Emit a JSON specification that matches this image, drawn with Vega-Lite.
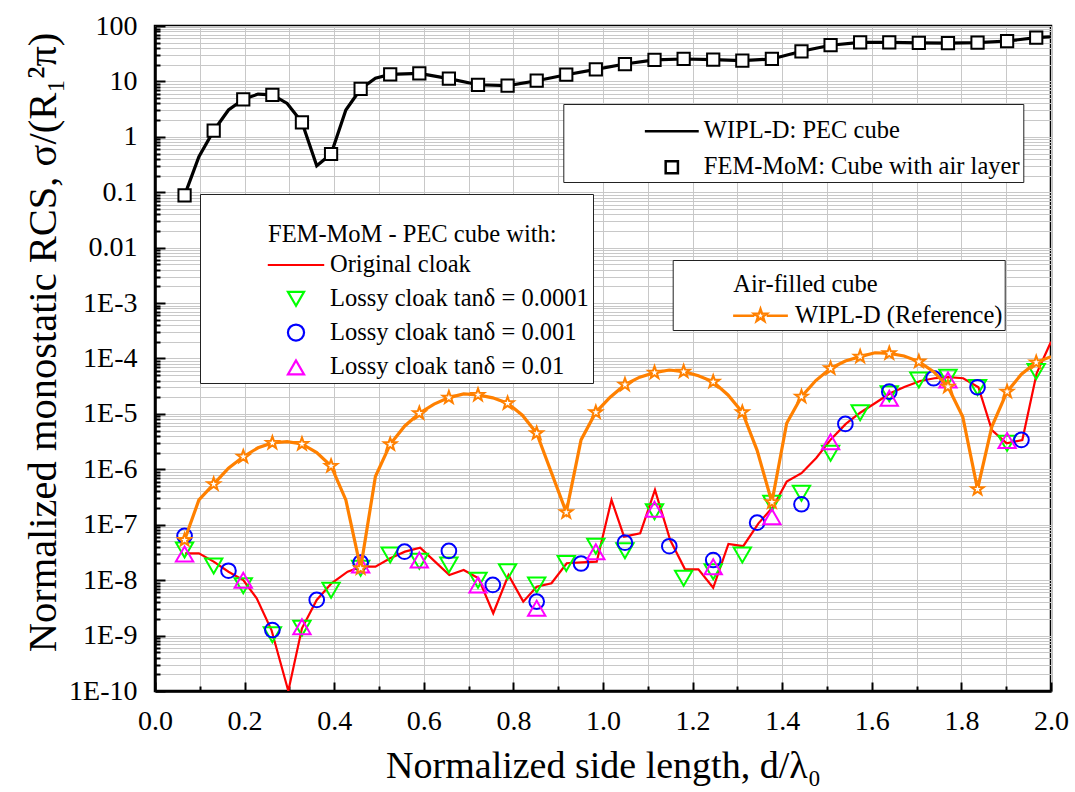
{
  "$schema": "https://vega.github.io/schema/vega-lite/v6.json",
  "width": 896,
  "height": 665,
  "autosize": {"type": "none"},
  "padding": {"left": 155, "top": 26, "right": 24, "bottom": 101},
  "background": "white",
  "config": {
    "font": "Liberation Serif",
    "view": {"stroke": "black", "strokeWidth": 2.5},
    "axis": {
      "labelFont": "Liberation Serif", "labelFontSize": 28, "labelColor": "black",
      "titleFont": "Liberation Serif", "titleFontSize": 38, "titleFontWeight": "normal", "titleColor": "black",
      "domainColor": "black", "domainWidth": 2.5, "tickColor": "black", "tickWidth": 2,
      "gridColor": "#c8c8c8", "gridWidth": 1, "labelFlush": false, "labelOverlap": false
    }
  },
  "datasets": {
    "pecLine": [
      {"x":0.066,"y":0.088},{"x":0.098,"y":0.44},{"x":0.131,"y":1.29},{"x":0.164,"y":3.05},{"x":0.197,"y":4.75},
      {"x":0.230,"y":5.9},{"x":0.262,"y":5.7},{"x":0.295,"y":4.0},{"x":0.328,"y":1.83},{"x":0.361,"y":0.30},
      {"x":0.393,"y":0.49},{"x":0.426,"y":3.05},{"x":0.459,"y":7.3},{"x":0.492,"y":11.4},{"x":0.525,"y":13.4},
      {"x":0.590,"y":14},{"x":0.656,"y":11.2},{"x":0.721,"y":8.7},{"x":0.787,"y":8.4},{"x":0.852,"y":10.3},
      {"x":0.918,"y":13.2},{"x":0.984,"y":16.5},{"x":1.049,"y":20.6},{"x":1.115,"y":24.4},{"x":1.180,"y":25.4},
      {"x":1.246,"y":24.8},{"x":1.311,"y":23.7},{"x":1.377,"y":25.4},{"x":1.443,"y":35},{"x":1.508,"y":45},
      {"x":1.574,"y":50.8},{"x":1.639,"y":50.8},{"x":1.705,"y":49.4},{"x":1.770,"y":49},{"x":1.836,"y":50},
      {"x":1.902,"y":53.6},{"x":1.967,"y":61.5},{"x":2.0,"y":64}
    ],
    "pecSquares": [
      {"x":0.066,"y":0.088},{"x":0.131,"y":1.29},{"x":0.197,"y":4.75},{"x":0.262,"y":5.7},{"x":0.328,"y":1.83},
      {"x":0.393,"y":0.49},{"x":0.459,"y":7.3},{"x":0.525,"y":13.4},{"x":0.590,"y":14},{"x":0.656,"y":11.2},
      {"x":0.721,"y":8.7},{"x":0.787,"y":8.4},{"x":0.852,"y":10.3},{"x":0.918,"y":13.2},{"x":0.984,"y":16.5},
      {"x":1.049,"y":20.6},{"x":1.115,"y":24.4},{"x":1.180,"y":25.4},{"x":1.246,"y":24.8},{"x":1.311,"y":23.7},
      {"x":1.377,"y":25.4},{"x":1.443,"y":35},{"x":1.508,"y":45},{"x":1.574,"y":50.8},{"x":1.639,"y":50.8},
      {"x":1.705,"y":49.4},{"x":1.770,"y":49},{"x":1.836,"y":50},{"x":1.902,"y":53.6},{"x":1.967,"y":61.5}
    ],
    "cloakLine": [
      {"x":0.067,"y":3.05e-8},{"x":0.098,"y":3.05e-8},{"x":0.131,"y":2.16e-8},{"x":0.164,"y":1.42e-8},{"x":0.197,"y":1.0e-8},
      {"x":0.227,"y":4.7e-9},{"x":0.260,"y":1.26e-9},{"x":0.2976,"y":1.0e-10},{"x":0.328,"y":1.35e-9},{"x":0.361,"y":4.4e-9},
      {"x":0.394,"y":8.8e-9},{"x":0.430,"y":1.42e-8},{"x":0.461,"y":1.75e-8},{"x":0.492,"y":1.75e-8},{"x":0.525,"y":2.48e-8},
      {"x":0.558,"y":3.27e-8},{"x":0.592,"y":3.86e-8},{"x":0.625,"y":2.16e-8},{"x":0.657,"y":1.24e-8},{"x":0.689,"y":1.53e-8},
      {"x":0.722,"y":1.08e-8},{"x":0.755,"y":2.53e-9},{"x":0.789,"y":1.24e-8},{"x":0.822,"y":4.1e-9},{"x":0.852,"y":7.6e-9},
      {"x":0.885,"y":8.8e-9},{"x":0.919,"y":2.02e-8},{"x":0.952,"y":2.1e-8},{"x":0.986,"y":2.16e-8},{"x":1.019,"y":2.8e-7},
      {"x":1.047,"y":6.1e-8},{"x":1.083,"y":7.0e-8},{"x":1.116,"y":4.25e-7},{"x":1.150,"y":5.3e-8},{"x":1.183,"y":1.57e-8},
      {"x":1.213,"y":1.57e-8},{"x":1.246,"y":7.3e-9},{"x":1.280,"y":4.5e-8},{"x":1.313,"y":4.1e-8},{"x":1.347,"y":1.06e-7},
      {"x":1.380,"y":2.12e-7},{"x":1.410,"y":6.0e-7},{"x":1.443,"y":8.5e-7},{"x":1.476,"y":1.6e-6},{"x":1.509,"y":3.5e-6},
      {"x":1.542,"y":6.6e-6},{"x":1.574,"y":1.05e-5},{"x":1.607,"y":1.56e-5},{"x":1.641,"y":2.36e-5},{"x":1.674,"y":3.1e-5},
      {"x":1.708,"y":3.93e-5},{"x":1.740,"y":4.4e-5},{"x":1.771,"y":4.6e-5},{"x":1.804,"y":4.4e-5},{"x":1.838,"y":3.03e-5},
      {"x":1.868,"y":5.1e-6},{"x":1.901,"y":2.95e-6},{"x":1.936,"y":3.39e-6},{"x":1.968,"y":5.4e-5},{"x":2.0,"y":2.0e-4}
    ],
    "loss0001": [
      {"x":0.066,"y":3.5e-8},{"x":0.131,"y":1.8e-8},{"x":0.197,"y":7.9e-9},{"x":0.262,"y":1.03e-9},{"x":0.328,"y":1.35e-9},
      {"x":0.393,"y":6.6e-9},{"x":0.459,"y":1.64e-8},{"x":0.525,"y":2.85e-8},{"x":0.590,"y":2.2e-8},{"x":0.656,"y":1.88e-8},
      {"x":0.721,"y":1.0e-8},{"x":0.787,"y":1.42e-8},{"x":0.852,"y":8.2e-9},{"x":0.918,"y":2.0e-8},{"x":0.984,"y":4.1e-8},
      {"x":1.049,"y":3.4e-8},{"x":1.115,"y":1.72e-7},{"x":1.180,"y":1.08e-8},{"x":1.246,"y":1.42e-8},{"x":1.311,"y":2.85e-8},
      {"x":1.377,"y":2.44e-7},{"x":1.443,"y":3.7e-7},{"x":1.508,"y":1.95e-6},{"x":1.574,"y":1.05e-5},{"x":1.639,"y":2.3e-5},
      {"x":1.705,"y":4.1e-5},{"x":1.770,"y":4.6e-5},{"x":1.836,"y":3.0e-5},{"x":1.902,"y":2.95e-6},{"x":1.967,"y":5.8e-5}
    ],
    "loss001": [
      {"x":0.066,"y":6.3e-8},{"x":0.164,"y":1.48e-8},{"x":0.262,"y":1.26e-9},{"x":0.361,"y":4.4e-9},{"x":0.459,"y":2.07e-8},
      {"x":0.557,"y":3.27e-8},{"x":0.656,"y":3.37e-8},{"x":0.754,"y":8.2e-9},{"x":0.852,"y":4.1e-9},{"x":0.951,"y":2.0e-8},
      {"x":1.049,"y":4.75e-8},{"x":1.148,"y":4.1e-8},{"x":1.246,"y":2.31e-8},{"x":1.344,"y":1.09e-7},{"x":1.443,"y":2.34e-7},
      {"x":1.541,"y":6.6e-6},{"x":1.639,"y":2.52e-5},{"x":1.738,"y":4.4e-5},{"x":1.836,"y":3.03e-5},{"x":1.934,"y":3.39e-6}
    ],
    "loss01": [
      {"x":0.066,"y":2.97e-8},{"x":0.197,"y":1.0e-8},{"x":0.328,"y":1.45e-9},{"x":0.459,"y":1.88e-8},{"x":0.590,"y":2.31e-8},
      {"x":0.721,"y":8.2e-9},{"x":0.852,"y":3.1e-9},{"x":0.984,"y":3.27e-8},{"x":1.115,"y":1.9e-7},{"x":1.246,"y":1.75e-8},
      {"x":1.377,"y":1.4e-7},{"x":1.508,"y":3.15e-6},{"x":1.639,"y":1.91e-5},{"x":1.770,"y":4.1e-5},{"x":1.902,"y":3.3e-6}
    ],
    "airLine": [
      {"x":0.066,"y":5.3e-8},{"x":0.098,"y":2.8e-7},{"x":0.131,"y":5.4e-7},{"x":0.164,"y":1.05e-6},{"x":0.197,"y":1.69e-6},
      {"x":0.230,"y":2.45e-6},{"x":0.262,"y":3.0e-6},{"x":0.295,"y":3.15e-6},{"x":0.328,"y":2.87e-6},{"x":0.361,"y":2.0e-6},
      {"x":0.393,"y":1.15e-6},{"x":0.426,"y":2.8e-7},{"x":0.459,"y":1.64e-8},{"x":0.492,"y":7.4e-7},{"x":0.525,"y":2.83e-6},
      {"x":0.557,"y":6.0e-6},{"x":0.590,"y":1.03e-5},{"x":0.623,"y":1.5e-5},{"x":0.656,"y":1.97e-5},{"x":0.689,"y":2.29e-5},
      {"x":0.721,"y":2.2e-5},{"x":0.754,"y":1.95e-5},{"x":0.787,"y":1.56e-5},{"x":0.820,"y":9.5e-6},{"x":0.852,"y":4.47e-6},
      {"x":0.918,"y":1.68e-7},{"x":0.951,"y":3.4e-6},{"x":0.984,"y":1.07e-5},{"x":1.016,"y":2.0e-5},{"x":1.049,"y":3.37e-5},
      {"x":1.082,"y":4.6e-5},{"x":1.115,"y":5.55e-5},{"x":1.148,"y":6.2e-5},{"x":1.180,"y":5.8e-5},{"x":1.213,"y":4.9e-5},
      {"x":1.246,"y":3.8e-5},{"x":1.279,"y":2.2e-5},{"x":1.311,"y":1.07e-5},{"x":1.344,"y":2.2e-6},{"x":1.377,"y":2.55e-7},
      {"x":1.410,"y":6.8e-6},{"x":1.443,"y":2.05e-5},{"x":1.475,"y":4.0e-5},{"x":1.508,"y":6.65e-5},{"x":1.541,"y":9.0e-5},
      {"x":1.574,"y":1.08e-4},{"x":1.607,"y":1.27e-4},{"x":1.639,"y":1.24e-4},{"x":1.672,"y":1.11e-4},{"x":1.705,"y":8.8e-5},
      {"x":1.738,"y":5.8e-5},{"x":1.770,"y":3.1e-5},{"x":1.803,"y":8.9e-6},{"x":1.836,"y":4.4e-7},{"x":1.868,"y":5.9e-6},
      {"x":1.902,"y":2.52e-5},{"x":1.934,"y":5.2e-5},{"x":1.967,"y":8.5e-5},{"x":2.0,"y":1.08e-4}
    ],
    "airStars": [
      {"x":0.066,"y":5.3e-8},{"x":0.131,"y":5.4e-7},{"x":0.197,"y":1.69e-6},{"x":0.262,"y":3.0e-6},{"x":0.328,"y":2.87e-6},
      {"x":0.393,"y":1.15e-6},{"x":0.459,"y":1.64e-8},{"x":0.525,"y":2.83e-6},{"x":0.590,"y":1.03e-5},{"x":0.656,"y":1.97e-5},
      {"x":0.721,"y":2.2e-5},{"x":0.787,"y":1.56e-5},{"x":0.852,"y":4.47e-6},{"x":0.918,"y":1.68e-7},{"x":0.984,"y":1.07e-5},
      {"x":1.049,"y":3.37e-5},{"x":1.115,"y":5.55e-5},{"x":1.180,"y":5.8e-5},{"x":1.246,"y":3.8e-5},{"x":1.311,"y":1.07e-5},
      {"x":1.377,"y":2.55e-7},{"x":1.443,"y":2.05e-5},{"x":1.508,"y":6.65e-5},{"x":1.574,"y":1.08e-4},{"x":1.639,"y":1.24e-4},
      {"x":1.705,"y":8.8e-5},{"x":1.770,"y":3.1e-5},{"x":1.836,"y":4.4e-7},{"x":1.902,"y":2.52e-5},{"x":1.967,"y":8.5e-5}
    ]
  },
  "encoding": {
    "x": {
      "field": "x", "type": "quantitative",
      "scale": {"domain": [0, 2], "nice": false, "zero": false},
      "axis": {
        "title": "Normalized side length, d/λ₀",
        "values": [0,0.1,0.2,0.3,0.4,0.5,0.6,0.7,0.8,0.9,1,1.1,1.2,1.3,1.4,1.5,1.6,1.7,1.8,1.9,2],
        "labelExpr": "round(datum.value*10) % 2 == 0 ? format(datum.value, '.1f') : ''",
        "grid": true,
        "tickSize": {"condition": {"test": "round(datum.value*10) % 2 == 0", "value": -9}, "value": -5},
        "labelPadding": 25,
        "titlePadding": 8
      }
    },
    "y": {
      "field": "y", "type": "quantitative",
      "scale": {"type": "log", "domain": [1e-10, 100], "nice": false},
      "axis": {
        "title": "Normalized monostatic RCS, σ/(R₁²π)",
        "titleFontSize": 40.5,
        "values": [1e-10,2e-10,3e-10,4e-10,5e-10,6e-10,7e-10,8e-10,9e-10,
          1e-9,2e-9,3e-9,4e-9,5e-9,6e-9,7e-9,8e-9,9e-9,
          1e-8,2e-8,3e-8,4e-8,5e-8,6e-8,7e-8,8e-8,9e-8,
          1e-7,2e-7,3e-7,4e-7,5e-7,6e-7,7e-7,8e-7,9e-7,
          1e-6,2e-6,3e-6,4e-6,5e-6,6e-6,7e-6,8e-6,9e-6,
          1e-5,2e-5,3e-5,4e-5,5e-5,6e-5,7e-5,8e-5,9e-5,
          1e-4,2e-4,3e-4,4e-4,5e-4,6e-4,7e-4,8e-4,9e-4,
          0.001,0.002,0.003,0.004,0.005,0.006,0.007,0.008,0.009,
          0.01,0.02,0.03,0.04,0.05,0.06,0.07,0.08,0.09,
          0.1,0.2,0.3,0.4,0.5,0.6,0.7,0.8,0.9,
          1,2,3,4,5,6,7,8,9,
          10,20,30,40,50,60,70,80,90,100],
        "labelExpr": "abs(log(datum.value)/LN10 - round(log(datum.value)/LN10)) > 0.001 ? '' : (datum.value >= 1 ? format(datum.value, 'd') : (datum.value >= 0.01 ? format(datum.value, '.2~f') : '1E' + round(log(datum.value)/LN10)))",
        "grid": true,
        "tickSize": {"condition": {"test": "abs(log(datum.value)/LN10 - round(log(datum.value)/LN10)) < 0.001", "value": -10}, "value": -5},
        "labelPadding": 28,
        "titlePadding": 4,
        "titleY": 316
      }
    }
  },
  "layer": [
    {
      "layer": [
        {
          "data": {"name": "cloakLine"},
          "mark": {"type": "line", "strokeWidth": 2.2, "clip": true},
          "encoding": {
            "stroke": {"datum": "Original cloak", "type": "nominal",
              "scale": {"domain": ["Original cloak", "Lossy cloak tanδ = 0.0001", "Lossy cloak tanδ = 0.001", "Lossy cloak tanδ = 0.01"], "range": ["#ff0000", "#00ff00", "#0000ff", "#ff00ff"]},
              "legend": {"title": "FEM-MoM - PEC cube with:", "orient": "none", "legendX": 45, "legendY": 168, "direction": "vertical", "strokeColor": "#222222", "fillColor": "white", "padding": 4, "titleFont": "Liberation Serif", "titleFontSize": 24.5, "titleFontWeight": "normal", "titleColor": "black", "titleLimit": 600, "titlePadding": 30.25, "titleAnchor": "start", "labelFont": "Liberation Serif", "labelFontSize": 24.5, "labelColor": "black", "labelLimit": 600, "symbolSize": 260, "symbolStrokeWidth": 2.2, "symbolFillColor": "transparent", "symbolOpacity": 1, "symbolOffset": 79.75, "labelOffset": 21.75, "rowPadding": 8.8, "encoding": {"title": {"dx": {"value": 64}, "dy": {"value": 24.75}}, "entries": {"width": {"value": 398}}}}}
          }
        },
        {
          "data": {"name": "loss0001"},
          "mark": {"type": "point", "filled": false, "opacity": 1, "size": 300, "strokeWidth": 2, "clip": true},
          "encoding": {
            "stroke": {"datum": "Lossy cloak tanδ = 0.0001", "type": "nominal",
              "scale": {"domain": ["Original cloak", "Lossy cloak tanδ = 0.0001", "Lossy cloak tanδ = 0.001", "Lossy cloak tanδ = 0.01"], "range": ["#ff0000", "#00ff00", "#0000ff", "#ff00ff"]},
              "legend": {"title": "FEM-MoM - PEC cube with:", "orient": "none", "legendX": 45, "legendY": 168, "direction": "vertical", "strokeColor": "#222222", "fillColor": "white", "padding": 4, "titleFont": "Liberation Serif", "titleFontSize": 24.5, "titleFontWeight": "normal", "titleColor": "black", "titleLimit": 600, "titlePadding": 30.25, "titleAnchor": "start", "labelFont": "Liberation Serif", "labelFontSize": 24.5, "labelColor": "black", "labelLimit": 600, "symbolSize": 260, "symbolStrokeWidth": 2.2, "symbolFillColor": "transparent", "symbolOpacity": 1, "symbolOffset": 79.75, "labelOffset": 21.75, "rowPadding": 8.8, "encoding": {"title": {"dx": {"value": 64}, "dy": {"value": 24.75}}, "entries": {"width": {"value": 398}}}}},
            "shape": {"datum": "Lossy cloak tanδ = 0.0001", "type": "nominal",
              "scale": {"domain": ["Original cloak", "Lossy cloak tanδ = 0.0001", "Lossy cloak tanδ = 0.001", "Lossy cloak tanδ = 0.01"], "range": ["M-3.5,0H3.5", "triangle-down", "circle", "triangle-up"]},
              "legend": {"title": "FEM-MoM - PEC cube with:", "orient": "none", "legendX": 45, "legendY": 168, "direction": "vertical", "strokeColor": "#222222", "fillColor": "white", "padding": 4, "titleFont": "Liberation Serif", "titleFontSize": 24.5, "titleFontWeight": "normal", "titleColor": "black", "titleLimit": 600, "titlePadding": 30.25, "titleAnchor": "start", "labelFont": "Liberation Serif", "labelFontSize": 24.5, "labelColor": "black", "labelLimit": 600, "symbolSize": 260, "symbolStrokeWidth": 2.2, "symbolFillColor": "transparent", "symbolOpacity": 1, "symbolOffset": 79.75, "labelOffset": 21.75, "rowPadding": 8.8, "encoding": {"title": {"dx": {"value": 64}, "dy": {"value": 24.75}}, "entries": {"width": {"value": 398}}}}}
          }
        },
        {
          "data": {"name": "loss001"},
          "mark": {"type": "point", "filled": false, "opacity": 1, "size": 215, "strokeWidth": 2, "clip": true},
          "encoding": {
            "stroke": {"datum": "Lossy cloak tanδ = 0.001", "type": "nominal",
              "scale": {"domain": ["Original cloak", "Lossy cloak tanδ = 0.0001", "Lossy cloak tanδ = 0.001", "Lossy cloak tanδ = 0.01"], "range": ["#ff0000", "#00ff00", "#0000ff", "#ff00ff"]},
              "legend": {"title": "FEM-MoM - PEC cube with:", "orient": "none", "legendX": 45, "legendY": 168, "direction": "vertical", "strokeColor": "#222222", "fillColor": "white", "padding": 4, "titleFont": "Liberation Serif", "titleFontSize": 24.5, "titleFontWeight": "normal", "titleColor": "black", "titleLimit": 600, "titlePadding": 30.25, "titleAnchor": "start", "labelFont": "Liberation Serif", "labelFontSize": 24.5, "labelColor": "black", "labelLimit": 600, "symbolSize": 260, "symbolStrokeWidth": 2.2, "symbolFillColor": "transparent", "symbolOpacity": 1, "symbolOffset": 79.75, "labelOffset": 21.75, "rowPadding": 8.8, "encoding": {"title": {"dx": {"value": 64}, "dy": {"value": 24.75}}, "entries": {"width": {"value": 398}}}}},
            "shape": {"datum": "Lossy cloak tanδ = 0.001", "type": "nominal",
              "scale": {"domain": ["Original cloak", "Lossy cloak tanδ = 0.0001", "Lossy cloak tanδ = 0.001", "Lossy cloak tanδ = 0.01"], "range": ["M-3.5,0H3.5", "triangle-down", "circle", "triangle-up"]},
              "legend": {"title": "FEM-MoM - PEC cube with:", "orient": "none", "legendX": 45, "legendY": 168, "direction": "vertical", "strokeColor": "#222222", "fillColor": "white", "padding": 4, "titleFont": "Liberation Serif", "titleFontSize": 24.5, "titleFontWeight": "normal", "titleColor": "black", "titleLimit": 600, "titlePadding": 30.25, "titleAnchor": "start", "labelFont": "Liberation Serif", "labelFontSize": 24.5, "labelColor": "black", "labelLimit": 600, "symbolSize": 260, "symbolStrokeWidth": 2.2, "symbolFillColor": "transparent", "symbolOpacity": 1, "symbolOffset": 79.75, "labelOffset": 21.75, "rowPadding": 8.8, "encoding": {"title": {"dx": {"value": 64}, "dy": {"value": 24.75}}, "entries": {"width": {"value": 398}}}}}
          }
        },
        {
          "data": {"name": "loss01"},
          "mark": {"type": "point", "filled": false, "opacity": 1, "size": 300, "strokeWidth": 2, "clip": true},
          "encoding": {
            "stroke": {"datum": "Lossy cloak tanδ = 0.01", "type": "nominal",
              "scale": {"domain": ["Original cloak", "Lossy cloak tanδ = 0.0001", "Lossy cloak tanδ = 0.001", "Lossy cloak tanδ = 0.01"], "range": ["#ff0000", "#00ff00", "#0000ff", "#ff00ff"]},
              "legend": {"title": "FEM-MoM - PEC cube with:", "orient": "none", "legendX": 45, "legendY": 168, "direction": "vertical", "strokeColor": "#222222", "fillColor": "white", "padding": 4, "titleFont": "Liberation Serif", "titleFontSize": 24.5, "titleFontWeight": "normal", "titleColor": "black", "titleLimit": 600, "titlePadding": 30.25, "titleAnchor": "start", "labelFont": "Liberation Serif", "labelFontSize": 24.5, "labelColor": "black", "labelLimit": 600, "symbolSize": 260, "symbolStrokeWidth": 2.2, "symbolFillColor": "transparent", "symbolOpacity": 1, "symbolOffset": 79.75, "labelOffset": 21.75, "rowPadding": 8.8, "encoding": {"title": {"dx": {"value": 64}, "dy": {"value": 24.75}}, "entries": {"width": {"value": 398}}}}},
            "shape": {"datum": "Lossy cloak tanδ = 0.01", "type": "nominal",
              "scale": {"domain": ["Original cloak", "Lossy cloak tanδ = 0.0001", "Lossy cloak tanδ = 0.001", "Lossy cloak tanδ = 0.01"], "range": ["M-3.5,0H3.5", "triangle-down", "circle", "triangle-up"]},
              "legend": {"title": "FEM-MoM - PEC cube with:", "orient": "none", "legendX": 45, "legendY": 168, "direction": "vertical", "strokeColor": "#222222", "fillColor": "white", "padding": 4, "titleFont": "Liberation Serif", "titleFontSize": 24.5, "titleFontWeight": "normal", "titleColor": "black", "titleLimit": 600, "titlePadding": 30.25, "titleAnchor": "start", "labelFont": "Liberation Serif", "labelFontSize": 24.5, "labelColor": "black", "labelLimit": 600, "symbolSize": 260, "symbolStrokeWidth": 2.2, "symbolFillColor": "transparent", "symbolOpacity": 1, "symbolOffset": 79.75, "labelOffset": 21.75, "rowPadding": 8.8, "encoding": {"title": {"dx": {"value": 64}, "dy": {"value": 24.75}}, "entries": {"width": {"value": 398}}}}}
          }
        }
      ]
    },
    {
      "layer": [
        {
          "data": {"name": "airLine"},
          "mark": {"type": "line", "strokeWidth": 3.2, "clip": true},
          "encoding": {
            "stroke": {"datum": "WIPL-D (Reference)", "type": "nominal",
              "scale": {"domain": ["WIPL-D (Reference)"], "range": ["#ff8000"]},
              "legend": {"title": "Air-filled cube", "orient": "none", "legendX": 517.7, "legendY": 234, "direction": "vertical", "strokeColor": "#222222", "fillColor": "white", "padding": 2, "titleFont": "Liberation Serif", "titleFontSize": 24.5, "titleFontWeight": "normal", "titleColor": "black", "titleLimit": 600, "titlePadding": 16.95, "titleAnchor": "start", "labelFont": "Liberation Serif", "labelFontSize": 24.5, "labelColor": "black", "labelLimit": 600, "symbolType": "M-4.2,0H-0.95M0.95,0H4.2M0,-1L0.235,-0.324L0.951,-0.309L0.38,0.124L0.588,0.809L0,0.4L-0.588,0.809L-0.38,0.124L-0.951,-0.309L-0.235,-0.324Z", "symbolSize": 170, "symbolStrokeWidth": 2.5, "symbolFillColor": "white", "symbolOpacity": 1, "symbolOffset": 73.55, "labelOffset": 22.25, "encoding": {"title": {"dx": {"value": 58.6}, "dy": {"value": 10.75}}, "entries": {"width": {"value": 340.6}}}}}
          }
        },
        {
          "data": {"name": "airStars"},
          "mark": {"type": "point", "shape": "M0,-1L0.235,-0.324L0.951,-0.309L0.38,0.124L0.588,0.809L0,0.4L-0.588,0.809L-0.38,0.124L-0.951,-0.309L-0.235,-0.324Z", "filled": true, "fill": "white", "opacity": 1, "size": 170, "strokeWidth": 2, "clip": true},
          "encoding": {
            "stroke": {"datum": "WIPL-D (Reference)", "type": "nominal",
              "scale": {"domain": ["WIPL-D (Reference)"], "range": ["#ff8000"]},
              "legend": {"title": "Air-filled cube", "orient": "none", "legendX": 517.7, "legendY": 234, "direction": "vertical", "strokeColor": "#222222", "fillColor": "white", "padding": 2, "titleFont": "Liberation Serif", "titleFontSize": 24.5, "titleFontWeight": "normal", "titleColor": "black", "titleLimit": 600, "titlePadding": 16.95, "titleAnchor": "start", "labelFont": "Liberation Serif", "labelFontSize": 24.5, "labelColor": "black", "labelLimit": 600, "symbolType": "M-4.2,0H-0.95M0.95,0H4.2M0,-1L0.235,-0.324L0.951,-0.309L0.38,0.124L0.588,0.809L0,0.4L-0.588,0.809L-0.38,0.124L-0.951,-0.309L-0.235,-0.324Z", "symbolSize": 170, "symbolStrokeWidth": 2.5, "symbolFillColor": "white", "symbolOpacity": 1, "symbolOffset": 73.55, "labelOffset": 22.25, "encoding": {"title": {"dx": {"value": 58.6}, "dy": {"value": 10.75}}, "entries": {"width": {"value": 340.6}}}}}
          }
        }
      ]
    },
    {
      "layer": [
        {
          "data": {"name": "pecLine"},
          "mark": {"type": "line", "strokeWidth": 3.2, "clip": true},
          "encoding": {
            "stroke": {"datum": "WIPL-D: PEC cube", "type": "nominal",
              "scale": {"domain": ["WIPL-D: PEC cube", "FEM-MoM: Cube with air layer"], "range": ["black", "black"]},
              "legend": {"title": null, "orient": "none", "legendX": 408.3, "legendY": 78, "direction": "vertical", "strokeColor": "#222222", "fillColor": "white", "padding": 3, "labelFont": "Liberation Serif", "labelFontSize": 24.5, "labelColor": "black", "labelLimit": 600, "symbolSize": 150, "symbolStrokeWidth": 2.5, "symbolFillColor": "white", "symbolOpacity": 1, "symbolOffset": 93.25, "labelOffset": 19.75, "rowPadding": -6.75, "encoding": {"symbols": {"y": {"value": 24.25}}, "labels": {"y": {"value": 24.25}}, "entries": {"width": {"value": 473}}}}}
          }
        },
        {
          "data": {"name": "pecSquares"},
          "mark": {"type": "point", "filled": true, "fill": "white", "opacity": 1, "size": 150, "strokeWidth": 2, "clip": true},
          "encoding": {
            "stroke": {"datum": "FEM-MoM: Cube with air layer", "type": "nominal",
              "scale": {"domain": ["WIPL-D: PEC cube", "FEM-MoM: Cube with air layer"], "range": ["black", "black"]},
              "legend": {"title": null, "orient": "none", "legendX": 408.3, "legendY": 78, "direction": "vertical", "strokeColor": "#222222", "fillColor": "white", "padding": 3, "labelFont": "Liberation Serif", "labelFontSize": 24.5, "labelColor": "black", "labelLimit": 600, "symbolSize": 150, "symbolStrokeWidth": 2.5, "symbolFillColor": "white", "symbolOpacity": 1, "symbolOffset": 93.25, "labelOffset": 19.75, "rowPadding": -6.75, "encoding": {"symbols": {"y": {"value": 24.25}}, "labels": {"y": {"value": 24.25}}, "entries": {"width": {"value": 473}}}}},
            "shape": {"datum": "FEM-MoM: Cube with air layer", "type": "nominal",
              "scale": {"domain": ["WIPL-D: PEC cube", "FEM-MoM: Cube with air layer"], "range": ["M-4.4,0H4.4", "square"]},
              "legend": {"title": null, "orient": "none", "legendX": 408.3, "legendY": 78, "direction": "vertical", "strokeColor": "#222222", "fillColor": "white", "padding": 3, "labelFont": "Liberation Serif", "labelFontSize": 24.5, "labelColor": "black", "labelLimit": 600, "symbolSize": 150, "symbolStrokeWidth": 2.5, "symbolFillColor": "white", "symbolOpacity": 1, "symbolOffset": 93.25, "labelOffset": 19.75, "rowPadding": -6.75, "encoding": {"symbols": {"y": {"value": 24.25}}, "labels": {"y": {"value": 24.25}}, "entries": {"width": {"value": 473}}}}}
          }
        }
      ]
    }
  ],
  "resolve": {
    "scale": {"stroke": "independent", "shape": "independent"},
    "legend": {"stroke": "independent", "shape": "independent"}
  }
}
